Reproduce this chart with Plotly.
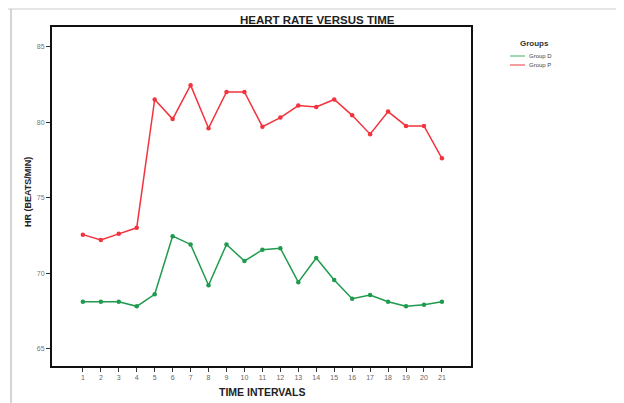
import plotly.graph_objects as go

time_intervals = list(range(1, 22))
group_d = [68.1, 68.1, 68.1, 67.8, 68.6, 72.45, 71.9, 69.2, 71.9, 70.8, 71.55,
           71.65, 69.4, 71.0, 69.55, 68.3, 68.55, 68.1, 67.8, 67.9, 68.1]
group_p = [72.55, 72.2, 72.6, 73.0, 81.5, 80.2, 82.45, 79.6, 82.0, 82.0, 79.7,
           80.3, 81.1, 81.0, 81.5, 80.45, 79.2, 80.7, 79.75, 79.75, 77.6]
y_ticks = [65, 70, 75, 80, 85]
series_names = ["Group D", "Group P"]
colors = ["#1f9a4e", "#f2333d"]

fig = go.Figure()
for name, vals, col in zip(series_names, [group_d, group_p], colors):
    fig.add_trace(go.Scatter(
        x=time_intervals, y=vals, mode="lines+markers", name=name,
        line=dict(color=col, width=1.5),
        marker=dict(color=col, size=4.5, symbol="circle"),
        showlegend=False,
    ))

# page body has an 8px margin: figure drawn at (8, 8)
OFF = 8
W, H = 624 - OFF, 403 - OFF
L = 52 - OFF
T = 27 - OFF
R = W - (471 - OFF)
B = H - (366 - OFF)
pw, ph = W - L - R, H - T - B

def px(xp):
    return (xp - OFF - L) / pw

def py(yp):
    return (H - B - (yp - OFF)) / ph

font = "Liberation Sans, Arial, sans-serif"

fig.update_layout(
    width=W, height=H,
    margin=dict(l=L, r=R, t=T, b=B),
    paper_bgcolor="white", plot_bgcolor="white",
    font=dict(family=font, color="#666666", size=7),
    xaxis=dict(
        range=[-0.72, 22.62], tickmode="array", tickvals=time_intervals,
        ticktext=[str(v) for v in time_intervals],
        showgrid=False, zeroline=False,
        showline=True, linecolor="#111111", linewidth=2, mirror=True,
        ticks="outside", ticklen=4, tickcolor="#333333", tickwidth=1,
        tickfont=dict(size=7, color="#666666"),
    ),
    yaxis=dict(
        range=[63.85, 86.3], tickmode="array", tickvals=y_ticks,
        ticktext=[str(v) for v in y_ticks],
        showgrid=False, zeroline=False,
        showline=True, linecolor="#111111", linewidth=2, mirror=True,
        ticks="outside", ticklen=4, tickcolor="#333333", tickwidth=1,
        tickfont=dict(size=7, color="#777777"),
    ),
)

annotations = [
    dict(text="<b>HEART RATE VERSUS TIME</b>", x=px(317), y=py(20),
         font=dict(size=11.5, color="#222222", family=font)),
    dict(text="<b>HR (BEATS/MIN)</b>", x=px(28), y=py(192), textangle=-90,
         font=dict(size=9, color="#222222", family=font)),
    dict(text="<b>TIME INTERVALS</b>", x=px(262), y=py(392),
         font=dict(size=10.5, color="#222222", family=font)),
    dict(text="<b>Groups</b>", x=px(534), y=py(43),
         font=dict(size=8, color="#333333", family=font)),
    dict(text=series_names[0], x=px(527), y=py(56), xanchor="left",
         font=dict(size=6, color="#444444", family=font)),
    dict(text=series_names[1], x=px(527), y=py(65), xanchor="left",
         font=dict(size=6, color="#444444", family=font)),
]
for a in annotations:
    a.update(xref="paper", yref="paper", showarrow=False)
    a.setdefault("xanchor", "center")
    a.setdefault("yanchor", "middle")
fig.update_layout(annotations=annotations)

shapes = [
    # legend lines
    dict(type="line", x0=px(510), x1=px(525), y0=py(56), y1=py(56),
         line=dict(color="#7fcc98", width=1.5)),
    dict(type="line", x0=px(510), x1=px(525), y0=py(65), y1=py(65),
         line=dict(color="#f07a80", width=1.5)),
    # page border lines
    dict(type="line", x0=px(8), x1=px(624), y0=py(9), y1=py(9),
         line=dict(color="#dddddd", width=1.5)),
    dict(type="line", x0=px(11), x1=px(11), y0=py(9), y1=py(403),
         line=dict(color="#aaaaaa", width=1)),
]
for s in shapes:
    s.update(xref="paper", yref="paper")
fig.update_layout(shapes=shapes)

fig.write_html("out.html")
